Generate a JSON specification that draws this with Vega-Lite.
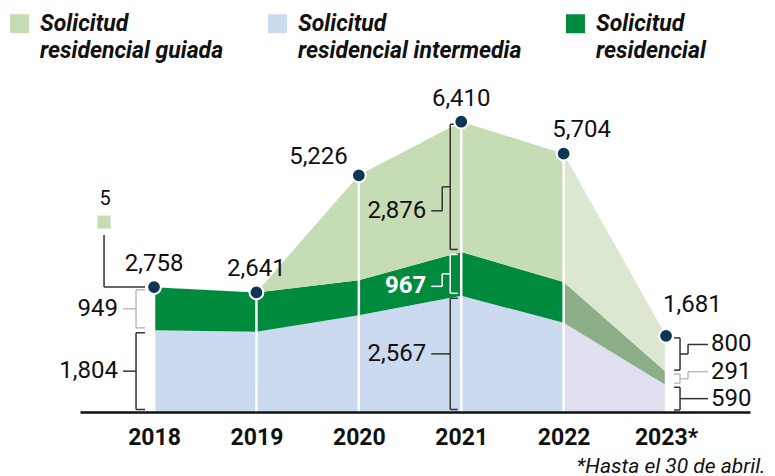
{
  "$schema": "https://vega.github.io/schema/vega-lite/v6.json",
  "width": 670,
  "height": 317,
  "autosize": "none",
  "padding": {"left": 80, "top": 95, "right": 25, "bottom": 64},
  "background": "white",
  "config": {"view": {"stroke": null}, "font": "Roboto", "style": {"guide-label": {"lineHeight": 27, "dy": -11}}},
  "data": {"values": [
    {"year": 2018, "serie": "Solicitud residencial intermedia", "value": 1804},
    {"year": 2018, "serie": "Solicitud residencial", "value": 949},
    {"year": 2018, "serie": "Solicitud residencial guiada", "value": 5},
    {"year": 2019, "serie": "Solicitud residencial intermedia", "value": 1770},
    {"year": 2019, "serie": "Solicitud residencial", "value": 871},
    {"year": 2019, "serie": "Solicitud residencial guiada", "value": 0},
    {"year": 2020, "serie": "Solicitud residencial intermedia", "value": 2139},
    {"year": 2020, "serie": "Solicitud residencial", "value": 772},
    {"year": 2020, "serie": "Solicitud residencial guiada", "value": 2315},
    {"year": 2021, "serie": "Solicitud residencial intermedia", "value": 2567},
    {"year": 2021, "serie": "Solicitud residencial", "value": 967},
    {"year": 2021, "serie": "Solicitud residencial guiada", "value": 2876},
    {"year": 2022, "serie": "Solicitud residencial intermedia", "value": 1969},
    {"year": 2022, "serie": "Solicitud residencial", "value": 904},
    {"year": 2022, "serie": "Solicitud residencial guiada", "value": 2831},
    {"year": 2023, "serie": "Solicitud residencial intermedia", "value": 590},
    {"year": 2023, "serie": "Solicitud residencial", "value": 291},
    {"year": 2023, "serie": "Solicitud residencial guiada", "value": 800}
  ]},
  "transform": [
    {"calculate": "datum.serie == 'Solicitud residencial intermedia' ? 0 : datum.serie == 'Solicitud residencial' ? 1 : 2", "as": "ord"},
    {"stack": "value", "groupby": ["year"], "sort": [{"field": "ord", "order": "ascending"}], "as": ["lo", "hi"]},
    {"calculate": "(datum.lo + datum.hi) / 2", "as": "mid"}
  ],
  "encoding": {
    "x": {
      "field": "year", "type": "quantitative",
      "scale": {"domain": [2017.277, 2023.82], "nice": false, "zero": false},
      "axis": {
        "values": [2018, 2019, 2020, 2021, 2022, 2023], "format": "d",
        "labelExpr": "datum.value == 2023 ? '2023*' : datum.label",
        "labelFont": "Roboto", "labelFontWeight": "bold", "labelFontSize": 23, "labelColor": "#111111",
        "labelPadding": 25, "labelBaseline": "top", "labelFlush": false, "labelOverlap": false,
        "ticks": false, "grid": false, "domainColor": "#111111", "domainWidth": 2.5, "zindex": 1,
        "title": "*Hasta el 30 de abril.", "titleFont": "Roboto", "titleFontStyle": "italic", "titleFontWeight": "normal",
        "titleFontSize": 21, "titleColor": "#111111", "titleAlign": "right", "titleBaseline": "alphabetic",
        "titleX": 685, "titleY": 60
      }
    }
  },
  "layer": [
    {
      "transform": [{"filter": "datum.year <= 2022"}],
      "mark": {"type": "area", "opacity": 1},
      "encoding": {
        "y": {
          "field": "hi", "type": "quantitative",
          "scale": {"domain": [0, 7000], "nice": false},
          "axis": {
            "values": [0, 2000, 4000, 6000], "format": ",", "title": null,
            "grid": true, "gridColor": "#c8c8c8", "gridWidth": 1.5, "domain": false, "ticks": false,
            "labelPadding": 16, "labelFont": "Roboto", "labelFontSize": 22, "labelColor": "#111111",
            "labelBaseline": "alphabetic", "labelOffset": 9, "zindex": 0
          }
        },
        "y2": {"field": "lo"},
        "color": {
          "field": "serie", "type": "nominal",
          "scale": {
            "domain": ["Solicitud residencial guiada", "Solicitud residencial intermedia", "Solicitud residencial"],
            "range": ["#c5dcb4", "#ccdaf0", "#008a3e"]
          },
          "legend": {
            "orient": "none", "legendX": -72, "legendY": -83, "direction": "horizontal", "title": null,
            "symbolType": "square", "symbolSize": 361, "symbolStrokeWidth": 0, "symbolOpacity": 1,
            "labelFont": "Roboto", "labelFontSize": 23, "labelFontStyle": "italic", "labelFontWeight": "bold",
            "labelColor": "#111111", "labelExpr": "['Solicitud', substring(datum.label, 10)]",
            "labelLimit": 0, "labelOffset": 9, "labelBaseline": "top", "columnPadding": 42, "padding": 0, "offset": 0
          }
        },
        "order": {"field": "ord"}
      }
    },
    {
      "transform": [{"filter": "datum.year >= 2022"}],
      "mark": {"type": "area", "opacity": 1},
      "encoding": {
        "y": {"field": "hi", "type": "quantitative", "axis": null},
        "y2": {"field": "lo"},
        "color": {
          "field": "serie", "type": "nominal",
          "scale": {
            "domain": ["Solicitud residencial guiada", "Solicitud residencial intermedia", "Solicitud residencial"],
            "range": ["#dce7d2", "#e0e0f1", "#8caf89"]
          },
          "legend": null
        },
        "order": {"field": "ord"}
      }
    },
    {
      "transform": [{"aggregate": [{"op": "sum", "field": "value", "as": "total"}], "groupby": ["year"]}],
      "mark": {"type": "rule", "color": "white", "strokeWidth": 2.5},
      "encoding": {
        "y": {"field": "total", "type": "quantitative", "axis": null},
        "y2": {"datum": 0}
      }
    },
    {
      "transform": [{"filter": "datum.year == 2018 && datum.serie != 'Solicitud residencial guiada'"}],
      "encoding": {"color": {"condition": {"test": "datum.serie == 'Solicitud residencial'", "value": "#bdbdbd"}, "value": "#333333"}},
      "layer": [
        {"mark": {"type": "rule", "strokeWidth": 1.5, "xOffset": -18, "yOffset": 2.5, "y2Offset": -2.5},
         "encoding": {"y": {"field": "hi", "type": "quantitative", "axis": null}, "y2": {"field": "lo"}}},
        {"mark": {"type": "rule", "strokeWidth": 1.5, "xOffset": -18, "x2Offset": -9, "yOffset": 2.5},
         "encoding": {"x2": {"field": "year"}, "y": {"field": "hi", "type": "quantitative", "axis": null}}},
        {"mark": {"type": "rule", "strokeWidth": 1.5, "xOffset": -18, "x2Offset": -9, "yOffset": -2.5},
         "encoding": {"x2": {"field": "year"}, "y": {"field": "lo", "type": "quantitative", "axis": null}}},
        {"mark": {"type": "rule", "strokeWidth": 1.5, "xOffset": -31, "x2Offset": -18},
         "encoding": {"x2": {"field": "year"}, "y": {"field": "mid", "type": "quantitative", "axis": null}}},
        {"mark": {"type": "text", "align": "right", "baseline": "middle", "dx": -36, "fontSize": 24, "font": "Roboto"},
         "encoding": {"y": {"field": "mid", "type": "quantitative", "axis": null}, "text": {"field": "value", "type": "quantitative", "format": ","}, "color": {"value": "#111111"}}}
      ]
    },
    {
      "transform": [{"filter": "datum.year == 2018 && datum.serie == 'Solicitud residencial guiada'"}],
      "layer": [
        {"mark": {"type": "rule", "strokeWidth": 1.5, "color": "#333333", "xOffset": -50, "yOffset": -52},
         "encoding": {"y": {"field": "hi", "type": "quantitative", "axis": null}, "y2": {"field": "hi"}}},
        {"mark": {"type": "rule", "strokeWidth": 1.5, "color": "#333333", "xOffset": -50, "x2Offset": -9},
         "encoding": {"x2": {"field": "year"}, "y": {"field": "hi", "type": "quantitative", "axis": null}}},
        {"mark": {"type": "point", "shape": "square", "filled": true, "size": 169, "color": "#c5dcb4", "opacity": 1, "xOffset": -50, "yOffset": -65},
         "encoding": {"y": {"field": "hi", "type": "quantitative", "axis": null}}},
        {"mark": {"type": "text", "align": "center", "baseline": "middle", "dx": -49, "dy": -88, "fontSize": 20, "font": "Roboto", "color": "#111111"},
         "encoding": {"y": {"field": "hi", "type": "quantitative", "axis": null}, "text": {"field": "value", "type": "quantitative", "format": ","}}}
      ]
    },
    {
      "transform": [{"filter": "datum.year == 2021"}],
      "encoding": {"color": {"condition": {"test": "datum.serie == 'Solicitud residencial'", "value": "white"}, "value": "#333333"}},
      "layer": [
        {"mark": {"type": "rule", "strokeWidth": 1.5, "xOffset": -11, "yOffset": 2.5, "y2Offset": -2.5},
         "encoding": {"y": {"field": "hi", "type": "quantitative", "axis": null}, "y2": {"field": "lo"}}},
        {"mark": {"type": "rule", "strokeWidth": 1.5, "xOffset": -11, "x2Offset": -3.5, "yOffset": 2.5},
         "encoding": {"x2": {"field": "year"}, "y": {"field": "hi", "type": "quantitative", "axis": null}}},
        {"mark": {"type": "rule", "strokeWidth": 1.5, "xOffset": -11, "x2Offset": -3.5, "yOffset": -2.5},
         "encoding": {"x2": {"field": "year"}, "y": {"field": "lo", "type": "quantitative", "axis": null}}},
        {
          "transform": [{"filter": "datum.serie == 'Solicitud residencial intermedia'"}],
          "layer": [
            {"mark": {"type": "rule", "strokeWidth": 1.5, "xOffset": -30, "x2Offset": -11},
             "encoding": {"x2": {"field": "year"}, "y": {"field": "mid", "type": "quantitative", "axis": null}}},
            {"mark": {"type": "text", "align": "right", "baseline": "middle", "dx": -35, "fontSize": 24, "font": "Roboto"},
             "encoding": {"y": {"field": "mid", "type": "quantitative", "axis": null}, "text": {"field": "value", "type": "quantitative", "format": ","}, "color": {"value": "#111111"}}}
          ]
        },
        {
          "transform": [{"filter": "datum.serie == 'Solicitud residencial guiada'"}],
          "layer": [
            {"mark": {"type": "rule", "strokeWidth": 1.5, "xOffset": -19, "x2Offset": -11},
             "encoding": {"x2": {"field": "year"}, "y": {"field": "mid", "type": "quantitative", "axis": null}}},
            {"mark": {"type": "rule", "strokeWidth": 1.5, "xOffset": -19, "y2Offset": 24},
             "encoding": {"y": {"field": "mid", "type": "quantitative", "axis": null}, "y2": {"field": "mid"}}},
            {"mark": {"type": "rule", "strokeWidth": 1.5, "xOffset": -30, "x2Offset": -19, "yOffset": 24},
             "encoding": {"x2": {"field": "year"}, "y": {"field": "mid", "type": "quantitative", "axis": null}}},
            {"mark": {"type": "text", "align": "right", "baseline": "middle", "dx": -35, "dy": 24, "fontSize": 24, "font": "Roboto"},
             "encoding": {"y": {"field": "mid", "type": "quantitative", "axis": null}, "text": {"field": "value", "type": "quantitative", "format": ","}, "color": {"value": "#111111"}}}
          ]
        },
        {
          "transform": [{"filter": "datum.serie == 'Solicitud residencial'"}],
          "layer": [
            {"mark": {"type": "rule", "strokeWidth": 1.5, "xOffset": -19, "x2Offset": -11},
             "encoding": {"x2": {"field": "year"}, "y": {"field": "mid", "type": "quantitative", "axis": null}}},
            {"mark": {"type": "rule", "strokeWidth": 1.5, "xOffset": -19, "y2Offset": 12.5},
             "encoding": {"y": {"field": "mid", "type": "quantitative", "axis": null}, "y2": {"field": "mid"}}},
            {"mark": {"type": "rule", "strokeWidth": 1.5, "xOffset": -30, "x2Offset": -19, "yOffset": 12.5},
             "encoding": {"x2": {"field": "year"}, "y": {"field": "mid", "type": "quantitative", "axis": null}}},
            {"mark": {"type": "text", "align": "right", "baseline": "middle", "dx": -35, "dy": 12.5, "fontSize": 24, "fontWeight": "bold", "font": "Roboto"},
             "encoding": {"y": {"field": "mid", "type": "quantitative", "axis": null}, "text": {"field": "value", "type": "quantitative", "format": ","}, "color": {"value": "white"}}}
          ]
        }
      ]
    },
    {
      "transform": [{"filter": "datum.year == 2023"}],
      "encoding": {"color": {"condition": {"test": "datum.serie == 'Solicitud residencial'", "value": "#bdbdbd"}, "value": "#333333"}},
      "layer": [
        {"mark": {"type": "rule", "strokeWidth": 1.5, "xOffset": 14, "yOffset": 2, "y2Offset": -2},
         "encoding": {"y": {"field": "hi", "type": "quantitative", "axis": null}, "y2": {"field": "lo"}}},
        {"mark": {"type": "rule", "strokeWidth": 1.5, "xOffset": 8, "x2Offset": 14, "yOffset": 2},
         "encoding": {"x2": {"field": "year"}, "y": {"field": "hi", "type": "quantitative", "axis": null}}},
        {"mark": {"type": "rule", "strokeWidth": 1.5, "xOffset": 8, "x2Offset": 14, "yOffset": -2},
         "encoding": {"x2": {"field": "year"}, "y": {"field": "lo", "type": "quantitative", "axis": null}}},
        {
          "transform": [{"filter": "datum.serie == 'Solicitud residencial intermedia'"}],
          "layer": [
            {"mark": {"type": "rule", "strokeWidth": 1.5, "xOffset": 14, "x2Offset": 42},
             "encoding": {"x2": {"field": "year"}, "y": {"field": "mid", "type": "quantitative", "axis": null}}},
            {"mark": {"type": "text", "align": "left", "baseline": "middle", "dx": 45, "fontSize": 24, "font": "Roboto"},
             "encoding": {"y": {"field": "mid", "type": "quantitative", "axis": null}, "text": {"field": "value", "type": "quantitative", "format": ","}, "color": {"value": "#111111"}}}
          ]
        },
        {
          "transform": [{"filter": "datum.serie == 'Solicitud residencial guiada'"}],
          "layer": [
            {"mark": {"type": "rule", "strokeWidth": 1.5, "xOffset": 14, "x2Offset": 22},
             "encoding": {"x2": {"field": "year"}, "y": {"field": "mid", "type": "quantitative", "axis": null}}},
            {"mark": {"type": "rule", "strokeWidth": 1.5, "xOffset": 22, "y2Offset": -9.5},
             "encoding": {"y": {"field": "mid", "type": "quantitative", "axis": null}, "y2": {"field": "mid"}}},
            {"mark": {"type": "rule", "strokeWidth": 1.5, "xOffset": 22, "x2Offset": 42, "yOffset": -9.5},
             "encoding": {"x2": {"field": "year"}, "y": {"field": "mid", "type": "quantitative", "axis": null}}},
            {"mark": {"type": "text", "align": "left", "baseline": "middle", "dx": 45, "dy": -9.5, "fontSize": 24, "font": "Roboto"},
             "encoding": {"y": {"field": "mid", "type": "quantitative", "axis": null}, "text": {"field": "value", "type": "quantitative", "format": ","}, "color": {"value": "#111111"}}}
          ]
        },
        {
          "transform": [{"filter": "datum.serie == 'Solicitud residencial'"}],
          "layer": [
            {"mark": {"type": "rule", "strokeWidth": 1.5, "xOffset": 14, "x2Offset": 22},
             "encoding": {"x2": {"field": "year"}, "y": {"field": "mid", "type": "quantitative", "axis": null}}},
            {"mark": {"type": "rule", "strokeWidth": 1.5, "xOffset": 22, "y2Offset": -7},
             "encoding": {"y": {"field": "mid", "type": "quantitative", "axis": null}, "y2": {"field": "mid"}}},
            {"mark": {"type": "rule", "strokeWidth": 1.5, "xOffset": 22, "x2Offset": 42, "yOffset": -7},
             "encoding": {"x2": {"field": "year"}, "y": {"field": "mid", "type": "quantitative", "axis": null}}},
            {"mark": {"type": "text", "align": "left", "baseline": "middle", "dx": 45, "dy": -7, "fontSize": 24, "font": "Roboto"},
             "encoding": {"y": {"field": "mid", "type": "quantitative", "axis": null}, "text": {"field": "value", "type": "quantitative", "format": ","}, "color": {"value": "#111111"}}}
          ]
        }
      ]
    },
    {
      "transform": [{"aggregate": [{"op": "sum", "field": "value", "as": "total"}], "groupby": ["year"]}],
      "layer": [
        {"mark": {"type": "point", "filled": true, "size": 190, "color": "#0c3654", "stroke": "white", "strokeWidth": 2, "opacity": 1},
         "encoding": {"y": {"field": "total", "type": "quantitative", "axis": null}}},
        {"transform": [{"filter": "datum.year == 2018 || datum.year == 2019 || datum.year == 2021"}],
         "mark": {"type": "text", "align": "center", "baseline": "middle", "dy": -23, "fontSize": 24, "font": "Roboto", "color": "#111111"},
         "encoding": {"y": {"field": "total", "type": "quantitative", "axis": null}, "text": {"field": "total", "type": "quantitative", "format": ","}}},
        {"transform": [{"filter": "datum.year == 2020"}],
         "mark": {"type": "text", "align": "right", "baseline": "middle", "dx": -11, "dy": -18, "fontSize": 24, "font": "Roboto", "color": "#111111"},
         "encoding": {"y": {"field": "total", "type": "quantitative", "axis": null}, "text": {"field": "total", "type": "quantitative", "format": ","}}},
        {"transform": [{"filter": "datum.year == 2022"}],
         "mark": {"type": "text", "align": "center", "baseline": "middle", "dx": 18, "dy": -24, "fontSize": 24, "font": "Roboto", "color": "white", "stroke": "white", "strokeWidth": 8},
         "encoding": {"y": {"field": "total", "type": "quantitative", "axis": null}, "text": {"field": "total", "type": "quantitative", "format": ","}}},
        {"transform": [{"filter": "datum.year == 2022"}],
         "mark": {"type": "text", "align": "center", "baseline": "middle", "dx": 18, "dy": -24, "fontSize": 24, "font": "Roboto", "color": "#111111"},
         "encoding": {"y": {"field": "total", "type": "quantitative", "axis": null}, "text": {"field": "total", "type": "quantitative", "format": ","}}},
        {"transform": [{"filter": "datum.year == 2023"}],
         "mark": {"type": "text", "align": "left", "baseline": "middle", "dx": -3, "dy": -31, "fontSize": 24, "font": "Roboto", "color": "#111111"},
         "encoding": {"y": {"field": "total", "type": "quantitative", "axis": null}, "text": {"field": "total", "type": "quantitative", "format": ","}}}
      ]
    }
  ],
  "resolve": {"scale": {"color": "independent"}}
}
